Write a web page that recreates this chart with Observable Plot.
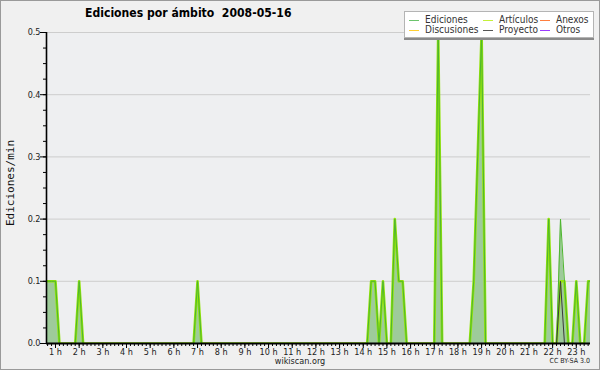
<!DOCTYPE html>
<html>
<head>
<meta charset="utf-8">
<script src="https://cdn.jsdelivr.net/npm/d3@7"></script>
<script src="https://cdn.jsdelivr.net/npm/@observablehq/plot@0.6"></script>
<style>
  html, body { margin: 0; padding: 0; background: #f0f0f0; }
  #wrap { position: relative; width: 600px; height: 370px; overflow: hidden;
          font-family: "DejaVu Sans Condensed", "DejaVu Sans", sans-serif; font-stretch: condensed; }
  #wrap svg { position: absolute; left: 0; top: 0; }
  #border { position: absolute; left: 0; top: 0; width: 598px; height: 368px; border: 1px solid #9a9a9a; pointer-events: none; }
  #title { position: absolute; left: 85px; top: 6px; font-weight: bold; font-size: 12.1px; line-height: 15px; white-space: pre; color: #000; }
  #ylabel { position: absolute; left: 10px; top: 183px; transform: translate(-50%, -50%) rotate(-90deg);
            font-family: "DejaVu Sans Mono", monospace; font-stretch: normal; font-size: 11px; white-space: nowrap; color: #111; }
  #site { position: absolute; left: 300px; top: 356px; transform: translateX(-50%); font-size: 9px; line-height: 11px; color: #222; }
  #lic { position: absolute; right: 10px; top: 357px; font-size: 7px; line-height: 9px; color: #222; }
  #legend { position: absolute; left: 404px; top: 11px; width: 188px; height: 25px; background: #fff;
            border: 1px solid #b4b4b4; box-shadow: 0 2px 0 #8a8a8a; }
  .item { position: absolute; height: 10px; font-size: 10px; line-height: 10px; color: #333; white-space: nowrap; }
  .sw { position: absolute; left: 0; top: 5px; width: 10px; height: 0; border-top: 1px solid; }
  .lab { position: absolute; left: 16px; top: 0; }
</style>
</head>
<body>
<div id="wrap">
  <div id="title"></div>
  <div id="ylabel"></div>
  <div id="site"></div>
  <div id="lic"></div>
  <div id="legend"></div>
  <div id="border"></div>
</div>
<script>
// ---- data (Ediciones/min per 10-minute bin, 00:00 .. 23:50) ----
const title = "Ediciones por ámbito  2008-05-16";
const yLabel = "Ediciones/min";
const siteText = "wikiscan.org";
const licenseText = "CC BY-SA 3.0";
const binMinutes = 10;

const ediciones = [
  0,0,0,0.1,0.1,0.1,      // 0 h
  0.1,0,0,0,0,0,          // 1 h
  0.1,0,0,0,0,0,          // 2 h
  0,0,0,0,0,0,            // 3 h
  0,0,0,0,0,0,            // 4 h
  0,0,0,0,0,0,            // 5 h
  0,0,0,0,0,0,            // 6 h
  0.1,0,0,0,0,0,          // 7 h
  0,0,0,0,0,0,            // 8 h
  0,0,0,0,0,0,            // 9 h
  0,0,0,0,0,0,            // 10 h
  0,0,0,0,0,0,            // 11 h
  0,0,0,0,0,0,            // 12 h
  0,0,0,0,0,0,            // 13 h
  0,0,0.1,0.1,0,0.1,      // 14 h
  0,0,0.2,0.1,0.1,0,      // 15 h
  0,0,0,0,0,0,            // 16 h
  0,0.5,0,0,0,0,          // 17 h
  0,0,0,0,0.1,0.3,        // 18 h
  0.5,0,0,0,0,0,          // 19 h
  0,0,0,0,0,0,            // 20 h
  0,0,0,0,0,0.2,          // 21 h
  0,0,0.2,0.1,0,0,        // 22 h
  0.1,0,0,0.1,0.1,0       // 23 h
];
const articulos = [
  0,0,0,0.1,0.1,0.1,      // 0 h
  0.1,0,0,0,0,0,          // 1 h
  0.1,0,0,0,0,0,          // 2 h
  0,0,0,0,0,0,            // 3 h
  0,0,0,0,0,0,            // 4 h
  0,0,0,0,0,0,            // 5 h
  0,0,0,0,0,0,            // 6 h
  0.1,0,0,0,0,0,          // 7 h
  0,0,0,0,0,0,            // 8 h
  0,0,0,0,0,0,            // 9 h
  0,0,0,0,0,0,            // 10 h
  0,0,0,0,0,0,            // 11 h
  0,0,0,0,0,0,            // 12 h
  0,0,0,0,0,0,            // 13 h
  0,0,0.1,0.1,0,0.1,      // 14 h
  0,0,0.2,0.1,0.1,0,      // 15 h
  0,0,0,0,0,0,            // 16 h
  0,0.5,0,0,0,0,          // 17 h
  0,0,0,0,0.1,0.3,        // 18 h
  0.5,0,0,0,0,0,          // 19 h
  0,0,0,0,0,0,            // 20 h
  0,0,0,0,0,0.2,          // 21 h
  0,0,0.1,0.1,0,0,        // 22 h
  0.1,0,0,0.1,0.1,0       // 23 h
];
const proyecto = [
  0,0,0,0,0,0, 0,0,0,0,0,0, 0,0,0,0,0,0, 0,0,0,0,0,0,   // 0-3 h
  0,0,0,0,0,0, 0,0,0,0,0,0, 0,0,0,0,0,0, 0,0,0,0,0,0,   // 4-7 h
  0,0,0,0,0,0, 0,0,0,0,0,0, 0,0,0,0,0,0, 0,0,0,0,0,0,   // 8-11 h
  0,0,0,0,0,0, 0,0,0,0,0,0, 0,0,0,0,0,0, 0,0,0,0,0,0,   // 12-15 h
  0,0,0,0,0,0, 0,0,0,0,0,0, 0,0,0,0,0,0, 0,0,0,0,0,0,   // 16-19 h
  0,0,0,0,0,0, 0,0,0,0,0,0, 0,0,0.1,0,0,0, 0,0,0,0,0,0  // 20-23 h
];

const seriesNames  = ["Ediciones", "Artículos", "Anexos", "Discusiones", "Proyecto", "Otros"];
const legendColors = ["#6cc46c", "#c4f03a", "#ff7f3f", "#ffcf33", "#555555", "#9b3cff"];

const hourTicks  = [1,2,3,4,5,6,7,8,9,10,11,12,13,14,15,16,17,18,19,20,21,22,23];
const hourLabels = hourTicks.map(h => h + " h");
const yTicks      = [0, 0.1, 0.2, 0.3, 0.4, 0.5];
const yTickLabels = ["0.0", "0.1", "0.2", "0.3", "0.4", "0.5"];
const xDomain = [0.62, 23.6];   // hours shown on the axis
const yDomain = [0, 0.5];

// ---- build ----
const rows = ediciones.map((v, i) => ({
  h: i * binMinutes / 60, ed: v, art: articulos[i], proy: proyecto[i]
}));
const minorX = d3.range(0, 24 * 60, binMinutes).map(m => m / 60).filter(h => h >= xDomain[0] && h <= xDomain[1]);
const minorY = d3.range(0, 21).map(k => k * 0.025);

const chart = Plot.plot({
  width: 600, height: 370,
  marginLeft: 46, marginRight: 10, marginTop: 32, marginBottom: 27,
  style: { background: "transparent", fontFamily: '"DejaVu Sans Condensed", "DejaVu Sans", sans-serif', fontSize: "9px", color: "#222" },
  x: { domain: xDomain, axis: null, label: null },
  y: { domain: yDomain, axis: null, label: null },
  marks: [
    Plot.frame({ fill: "#eeeff1", stroke: null }),
    Plot.ruleY(yTicks.slice(1), { stroke: "#cdcdcd", strokeWidth: 1 }),
    Plot.areaY(rows, { x: "h", y: "ed", fill: "#9ecb9a", clip: true }),
    Plot.lineY(rows, { x: "h", y: "art", stroke: "#94e40c", strokeWidth: 2.6, clip: true }),
    Plot.lineY(rows, { x: "h", y: "ed", stroke: "#4db62e", strokeWidth: 1, clip: true }),
    Plot.lineY(rows, { x: "h", y: "proy", stroke: "#3a3a3a", strokeWidth: 1, clip: true }),
    Plot.ruleY([yDomain[0]], { stroke: "#000", strokeWidth: 1.8 }),
    Plot.ruleX([xDomain[0]], { stroke: "#000", strokeWidth: 1.6 }),
    Plot.axisY({ ticks: yTicks, tickSize: 6, tickPadding: 0, stroke: "#000", label: null,
                 tickFormat: d => yTickLabels[yTicks.indexOf(d)] }),
    Plot.axisY({ ticks: minorY, tickSize: 3, stroke: "#000", label: null, tickFormat: () => "" }),
    Plot.axisX({ ticks: hourTicks, tickSize: 5, tickPadding: 0, stroke: "#000", label: null,
                 tickFormat: d => hourLabels[hourTicks.indexOf(d)] }),
    Plot.axisX({ ticks: minorX, tickSize: 3, stroke: "#000", label: null, tickFormat: () => "" })
  ]
});
document.getElementById("wrap").insertBefore(chart, document.getElementById("title"));

document.getElementById("title").textContent = title;
document.getElementById("ylabel").textContent = yLabel;
document.getElementById("site").textContent = siteText;
document.getElementById("lic").textContent = licenseText;

const legend = document.getElementById("legend");
const colLeft = [4, 78, 135];
const rowTop = [3, 13];
seriesNames.forEach((name, i) => {
  const item = document.createElement("div");
  item.className = "item";
  item.style.left = colLeft[i % 3] + "px";
  item.style.top = rowTop[Math.floor(i / 3)] + "px";
  const sw = document.createElement("div");
  sw.className = "sw";
  sw.style.borderTopColor = legendColors[i];
  const lab = document.createElement("div");
  lab.className = "lab";
  lab.textContent = name;
  item.appendChild(sw);
  item.appendChild(lab);
  legend.appendChild(item);
});
</script>
</body>
</html>
